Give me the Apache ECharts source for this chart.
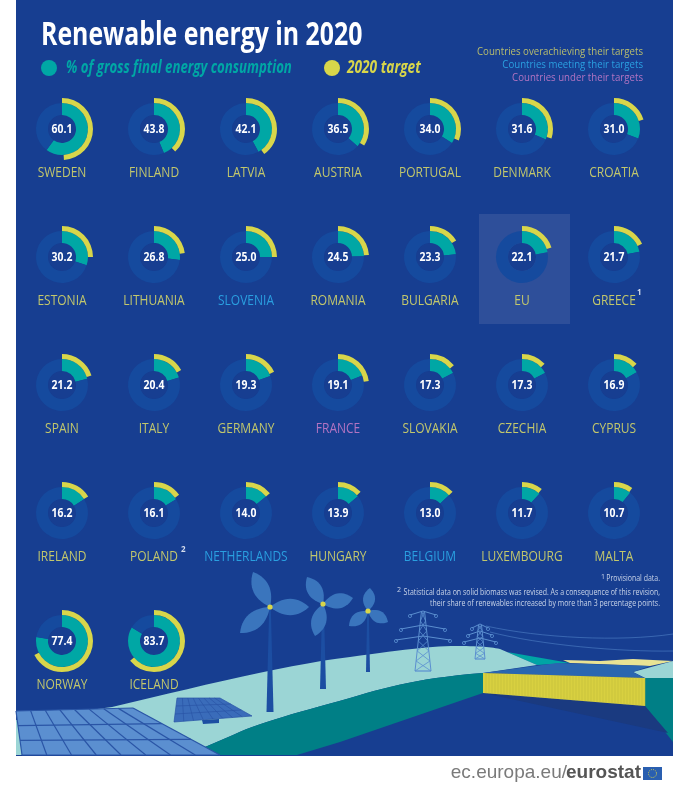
<!DOCTYPE html>
<html>
<head>
<meta charset="utf-8">
<title>Renewable energy in 2020</title>
<script src="https://cdn.jsdelivr.net/npm/echarts@6/dist/echarts.min.js"></script>
<style>
  html, body { margin: 0; padding: 0; background: #fff; }
  #chart { width: 694px; height: 785px; }
</style>
</head>
<body>
<div id="chart"></div>
<script>
var countries = ['SWEDEN', 'FINLAND', 'LATVIA', 'AUSTRIA', 'PORTUGAL', 'DENMARK', 'CROATIA',
  'ESTONIA', 'LITHUANIA', 'SLOVENIA', 'ROMANIA', 'BULGARIA', 'EU', 'GREECE',
  'SPAIN', 'ITALY', 'GERMANY', 'FRANCE', 'SLOVAKIA', 'CZECHIA', 'CYPRUS',
  'IRELAND', 'POLAND', 'NETHERLANDS', 'HUNGARY', 'BELGIUM', 'LUXEMBOURG', 'MALTA',
  'NORWAY', 'ICELAND'];
var shares = [60.1, 43.8, 42.1, 36.5, 34.0, 31.6, 31.0,
  30.2, 26.8, 25.0, 24.5, 23.3, 22.1, 21.7,
  21.2, 20.4, 19.3, 19.1, 17.3, 17.3, 16.9,
  16.2, 16.1, 14.0, 13.9, 13.0, 11.7, 10.7,
  77.4, 83.7];
var targets = [49, 38, 40, 34, 31, 30, 20,
  25, 23, 25, 24, 16, 20, 18,
  20, 17, 18, 23, 14, 13, 13,
  16, 15, 14, 13, 13, 11, 10,
  67.5, 64];
var targetStatus = ['over', 'over', 'over', 'over', 'over', 'over', 'over',
  'over', 'over', 'meet', 'over', 'over', 'over', 'over',
  'over', 'over', 'over', 'under', 'over', 'over', 'over',
  'over', 'over', 'meet', 'over', 'meet', 'over', 'over',
  'over', 'over'];
var statusLabels = ['Countries overachieving their targets', 'Countries meeting their targets', 'Countries under their targets'];
var footnotes = ['Provisional data.',
  'Statistical data on solid biomass was revised. As a consequence of this revision,',
  'their share of renewables increased by more than 3 percentage points.'];

var BG = '#173e91', TRACK = '#154a9e', TEAL = '#00a7a5', YELLOW = '#d8d64a';
var FONT = '"Open Sans", sans-serif';
var statusColors = { over: '#c2c76c', meet: '#2a9fe0', under: '#b274c2' };

function centerOf(i) {
  return [62 + (i % 7) * 92, 129 + Math.floor(i / 7) * 128];
}

// pies: teal share on the track, yellow target ring around it
var series = [];
countries.forEach(function (name, i) {
  var c = centerOf(i);
  series.push({
    type: 'pie', silent: true, animation: false, center: c, radius: [14, 26],
    startAngle: 90, clockwise: true, z: 3,
    label: { show: false }, labelLine: { show: false },
    data: [
      { value: shares[i], name: name, itemStyle: { color: TEAL } },
      { value: 100 - shares[i], name: 'rest', itemStyle: { color: TRACK } }
    ]
  });
  series.push({
    type: 'pie', silent: true, animation: false, center: c, radius: [26, 31],
    startAngle: 90, clockwise: true, z: 3,
    label: { show: false }, labelLine: { show: false },
    data: [
      { value: targets[i], name: name + ' target', itemStyle: { color: YELLOW } },
      { value: 100 - targets[i], name: 'rest', itemStyle: { color: 'transparent' } }
    ]
  });
});

function poly(points, fill, z) {
  return { type: 'polygon', z: z || 1, silent: true, shape: { points: points }, style: { fill: fill } };
}
function line(x1, y1, x2, y2, stroke, width, z) {
  return { type: 'line', z: z || 1, silent: true, shape: { x1: x1, y1: y1, x2: x2, y2: y2 },
    style: { stroke: stroke, lineWidth: width } };
}
// the fonts here are wider than the condensed original, so text gets squeezed with scaleX
function text(str, x, y, font, fill, align, squeeze) {
  return { type: 'text', z: 5, silent: true, x: x, y: y, scaleX: squeeze || 1,
    style: { text: str, x: 0, y: 0, font: font, fill: fill, textAlign: align || 'left', textVerticalAlign: 'middle' } };
}
// sampled cubic, p0 left out so runs of these chain together
function bez(p0, c1, c2, p3) {
  var pts = [];
  for (var i = 1; i <= 14; i++) {
    var t = i / 14, u = 1 - t;
    pts.push([
      u * u * u * p0[0] + 3 * u * u * t * c1[0] + 3 * u * t * t * c2[0] + t * t * t * p3[0],
      u * u * u * p0[1] + 3 * u * u * t * c1[1] + 3 * u * t * t * c2[1] + t * t * t * p3[1]
    ]);
  }
  return pts;
}
function blade(hx, hy, tx, ty, w) {
  var dx = ty - hy, dy = hx - tx, len = Math.sqrt(dx * dx + dy * dy);
  var nx = dx / len * w, ny = dy / len * w;
  var a1 = [hx + (tx - hx) * 0.35 + nx, hy + (ty - hy) * 0.35 + ny], a2 = [hx + (tx - hx) * 0.7 + nx, hy + (ty - hy) * 0.7 + ny];
  var b1 = [hx + (tx - hx) * 0.7 - nx, hy + (ty - hy) * 0.7 - ny], b2 = [hx + (tx - hx) * 0.35 - nx, hy + (ty - hy) * 0.35 - ny];
  var pts = [[hx, hy]].concat(bez([hx, hy], a1, a2, [tx, ty])).concat(bez([tx, ty], b1, b2, [hx, hy]));
  return poly(pts, '#3a75bd', 2);
}
function turbine(hx, hy, baseY, tips, baseW, bladeW) {
  var out = [poly([[hx - 0.8, hy], [hx + 0.8, hy], [hx + baseW / 2, baseY], [hx - baseW / 2, baseY]], '#1c4ea2', 2)];
  tips.forEach(function (t) { out.push(blade(hx, hy, t[0], t[1], bladeW)); });
  out.push({ type: 'circle', z: 2, silent: true, shape: { cx: hx, cy: hy, r: 2.6 }, style: { fill: YELLOW } });
  return out;
}
function lerp(a, b, t) { return [a[0] + (b[0] - a[0]) * t, a[1] + (b[1] - a[1]) * t]; }
// tl, tr, br, bl corners of a solar panel with its cell lines
function solar(tl, tr, br, bl, cols, rows, fill, stroke, width) {
  var out = [poly([tl, tr, br, bl], fill)];
  for (var i = 0; i <= cols; i++) {
    var a = lerp(tl, tr, i / cols), b = lerp(bl, br, i / cols);
    out.push(line(a[0], a[1], b[0], b[1], stroke, width));
  }
  for (var j = 0; j <= rows; j++) {
    var c = lerp(tl, bl, j / rows), d = lerp(tr, br, j / rows);
    out.push(line(c[0], c[1], d[0], d[1], stroke, width));
  }
  return out;
}
function pylon(x, top, base, halfBase, arms) {
  var s = '#5b8fd0', out = [];
  out.push(line(x - 1.5, top, x - halfBase, base, s, 1, 2));
  out.push(line(x + 1.5, top, x + halfBase, base, s, 1, 2));
  out.push(line(x - halfBase, base, x + halfBase, base, s, 1.2, 2));
  var steps = 6;
  for (var i = 0; i < steps; i++) {
    var t0 = i / steps, t1 = (i + 1) / steps;
    var w0 = 1.5 + (halfBase - 1.5) * t0, w1 = 1.5 + (halfBase - 1.5) * t1;
    var y0 = top + (base - top) * t0, y1 = top + (base - top) * t1;
    out.push(line(x - w0, y0, x + w1, y1, s, 0.8, 2));
    out.push(line(x + w0, y0, x - w1, y1, s, 0.8, 2));
  }
  arms.forEach(function (a) {
    out.push(line(x - a[1], a[0] + 2, x, a[0] - 2, s, 1, 2));
    out.push(line(x + a[1], a[0] + 2, x, a[0] - 2, s, 1, 2));
    out.push({ type: 'circle', z: 2, silent: true, shape: { cx: x - a[1], cy: a[0] + 3, r: 1.6 }, style: { fill: 'none', stroke: s, lineWidth: 0.8 } });
    out.push({ type: 'circle', z: 2, silent: true, shape: { cx: x + a[1], cy: a[0] + 3, r: 1.6 }, style: { fill: 'none', stroke: s, lineWidth: 0.8 } });
  });
  return out;
}
function wire(p0, c1, c2, p3) {
  return { type: 'bezierCurve', z: 1, silent: true,
    shape: { x1: p0[0], y1: p0[1], cpx1: c1[0], cpy1: c1[1], cpx2: c2[0], cpy2: c2[1], x2: p3[0], y2: p3[1] },
    style: { stroke: '#5b8fd0', lineWidth: 0.5, fill: 'none' } };
}

var g = [];
g.push({ type: 'rect', z: 0, silent: true, shape: { x: 16, y: 0, width: 657, height: 756 }, style: { fill: BG } });
g.push({ type: 'rect', z: 0, silent: true, shape: { x: 479, y: 214, width: 91, height: 110 }, style: { fill: '#2e4f9a' } });

// header
g.push(text('Renewable energy in 2020', 41, 35.5, 'bold 32px ' + FONT, '#fff', 'left', 0.776));
g.push({ type: 'circle', z: 1, silent: true, shape: { cx: 49, cy: 68, r: 8 }, style: { fill: TEAL } });
g.push(text('% of gross final energy consumption', 66, 68, 'italic bold 18px ' + FONT, TEAL, 'left', 0.733));
g.push({ type: 'circle', z: 1, silent: true, shape: { cx: 332, cy: 68, r: 8 }, style: { fill: YELLOW } });
g.push(text('2020 target', 347, 68, 'italic bold 18px ' + FONT, YELLOW, 'left', 0.76));
g.push(text(statusLabels[0], 643, 52, '11.5px ' + FONT, '#b8bd6e', 'right', 0.84));
g.push(text(statusLabels[1], 643, 65, '11.5px ' + FONT, statusColors.meet, 'right', 0.84));
g.push(text(statusLabels[2], 643, 78, '11.5px ' + FONT, statusColors.under, 'right', 0.84));

// holes, values and country names
countries.forEach(function (name, i) {
  var c = centerOf(i);
  g.push({ type: 'circle', z: 1, silent: true, shape: { cx: c[0], cy: c[1], r: 14 }, style: { fill: BG } });
  g.push(text(shares[i].toFixed(1), c[0], c[1], 'bold 13px ' + FONT, '#fff', 'center', 0.8));
  g.push(text(name, c[0], c[1] + 44, '15px ' + FONT, statusColors[targetStatus[i]], 'center', 0.8));
});
g.push(text('1', 637, 293, 'bold 8px ' + FONT, '#d5dcec'));
g.push(text('2', 181, 550, 'bold 8px ' + FONT, '#d5dcec'));

// footnotes
g.push(text('1', 601, 577, '7px ' + FONT, '#c8d3e8'));
g.push(text(footnotes[0], 660, 579, '8.5px ' + FONT, '#c8d3e8', 'right', 0.82));
g.push(text('2', 397, 590, '7px ' + FONT, '#c8d3e8'));
g.push(text(footnotes[1], 660, 593, '8.5px ' + FONT, '#c8d3e8', 'right', 0.82));
g.push(text(footnotes[2], 660, 604, '8.5px ' + FONT, '#c8d3e8', 'right', 0.82));

// landscape
g.push(poly([[507, 652], [537, 665], [570, 663]], '#00a5a5'));
g.push(poly([[563, 660], [600, 661], [633, 659], [673, 661], [650, 666], [570, 663]], '#e8e394'));
var hillTop = [[112, 707]].concat(bez([112, 707], [200, 686], [290, 664], [350, 657]))
  .concat(bez([350, 657], [400, 650], [430, 646], [457, 646]))
  .concat(bez([457, 646], [480, 646], [490, 647], [500, 649]))
  .concat([[537, 665], [483, 673]]);
var hillLower = bez([483, 673], [420, 678], [390, 686], [350, 698])
  .concat(bez([350, 698], [300, 712], [260, 722], [233, 735]))
  .concat([[205, 747], [190, 755]]);
g.push(poly(hillTop.concat(hillLower).concat([[16, 755], [16, 720]]), '#9bd5d5'));
g.push(poly([[633, 672], [673, 661], [673, 678], [645, 678]], '#9bd5d5'));
g.push(poly([[483, 673]].concat(hillLower).concat([[297, 755], [340, 742], [483, 693]]), '#007f86'));
g.push(poly([[645, 678], [673, 678], [673, 742], [645, 706]], '#007f86'));
g.push(poly([[483, 693], [645, 706], [668, 733]], '#1a3a80'));
g.push(poly([[483, 673], [557, 663], [650, 666], [633, 672], [645, 678]], '#2a66b0'));
g.push(poly([[483, 673], [645, 678], [645, 706], [483, 693]], '#d8d040'));
for (var k = 0; k < 54; k++) {
  var wx = 486 + k * 3;
  g.push(line(wx, 673 + (wx - 483) * 0.03, wx, 693 + (wx - 483) * 0.08, '#bdb838', 0.5));
}

g = g.concat(solar([16, 711], [133, 708], [220, 755], [22, 755], 8, 3, '#5b8fd0', '#2a55a6', 1.2));
g.push(poly([[202, 720], [219, 719], [219, 723], [203, 724]], '#1c4ea2'));
g = g.concat(solar([177, 698], [220, 698], [252, 716], [174, 722], 8, 3, '#3a6cba', '#2a55a6', 0.7));

g = g.concat(turbine(270, 607, 712, [[253, 572], [309, 607], [240, 633]], 7, 11));
g = g.concat(turbine(323, 604, 689, [[307, 577], [353, 598], [315, 636]], 6, 10));
g = g.concat(turbine(368, 611, 672, [[370, 588], [388, 622], [349, 626]], 4, 8));

g = g.concat(pylon(423, 611, 671, 8, [[613, 13], [627, 22], [638, 27]]));
g = g.concat(pylon(480, 625, 659, 5, [[626, 8], [633, 12], [640, 16]]));
g.push(wire([486, 626], [540, 638], [620, 642], [673, 634]));
g.push(wire([490, 632], [540, 645], [620, 652], [673, 651]));

// eurostat mark
g.push(text('eurostat', 641, 773, 'bold 19px "Liberation Sans", Arial, sans-serif', '#555', 'right'));
g.push(text('ec.europa.eu/', 567, 773, '19px "Liberation Sans", Arial, sans-serif', '#7a7a7a', 'right'));
g.push({ type: 'rect', z: 1, silent: true, shape: { x: 643, y: 767, width: 19, height: 13 }, style: { fill: '#2a5fb0' } });
g.push({ type: 'circle', z: 1, silent: true, shape: { cx: 652.5, cy: 773.5, r: 4 },
  style: { fill: 'none', stroke: '#d8d64a', lineWidth: 1, lineDash: [1, 1.1] } });

var chart = echarts.init(document.getElementById('chart'));
chart.setOption({
  animation: false,
  backgroundColor: '#fff',
  graphic: { elements: g },
  series: series
});
</script>
</body>
</html>
